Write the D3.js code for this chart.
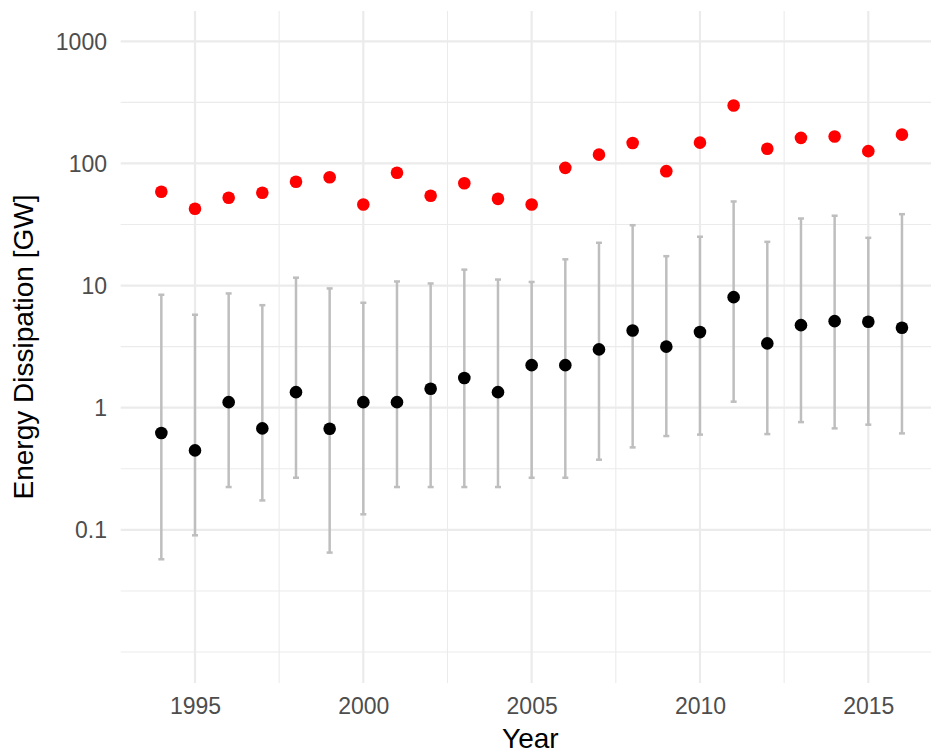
<!DOCTYPE html>
<html>
<head>
<meta charset="utf-8">
<script src="https://cdn.jsdelivr.net/npm/d3@7"></script>
<style>
  body { margin: 0; background: #fff; }
  svg { display: block; font-family: "Liberation Sans", Arial, sans-serif; }
</style>
</head>
<body>
<svg width="931" height="751"></svg>
<script>
const width = 931
const height = 751

const years = [1994, 1995, 1996, 1997, 1998, 1999, 2000, 2001, 2002, 2003, 2004, 2005,
               2006, 2007, 2008, 2009, 2010, 2011, 2012, 2013, 2014, 2015, 2016]
const maxGW = [58.6, 42.5, 52.3, 57.5, 70.7, 77.1, 46.1, 83.8, 54.3, 68.9, 51.3, 46.1,
               92.0, 118, 147, 86.4, 148, 298, 132, 162, 166, 126, 172]
const meanGW = [0.62, 0.447, 1.11, 0.677, 1.34, 0.673, 1.11, 1.11, 1.43, 1.75, 1.34, 2.23,
                2.23, 3.0, 4.29, 3.16, 4.16, 8.04, 3.36, 4.74, 5.11, 5.06, 4.52]
const lowGW = [0.0574, 0.0902, 0.224, 0.174, 0.267, 0.0651, 0.134, 0.224, 0.224, 0.224, 0.224, 0.267,
               0.267, 0.375, 0.473, 0.586, 0.602, 1.12, 0.608, 0.762, 0.677, 0.726, 0.616]
const highGW = [8.41, 5.77, 8.62, 6.91, 11.6, 9.47, 7.23, 10.8, 10.4, 13.5, 11.2, 10.7,
                16.4, 22.4, 31.2, 17.4, 25.1, 48.8, 22.8, 35.4, 37.3, 24.6, 38.4]

const yBreaks = [0.1, 1, 10, 100, 1000]
const yMinor = [0.01, 0.0316, 0.316, 3.16, 31.6, 316]
const xBreaks = [1995, 2000, 2005, 2010, 2015]
const xMinor = [1997.5, 2002.5, 2007.5, 2012.5]

const panel = {left: 120.7, right: 940, top: 11, bottom: 683}

const xScale = d3.scaleLinear()
    .domain([1995, 2015])
    .range([195, 868.3])

const yScale = d3.scaleLog()
    .domain([0.00557, 1770])
    .range([panel.bottom, panel.top])

const svg = d3.select("svg")

const grid = svg.append("g")

// minor gridlines
grid.selectAll(".hminor")
    .data(yMinor)
    .enter()
    .append("line")
        .attr("x1", panel.left)
        .attr("x2", panel.right)
        .attr("y1", d => yScale(d))
        .attr("y2", d => yScale(d))
        .style("stroke", "#ebebeb")
        .style("stroke-width", 1.1)

grid.selectAll(".vminor")
    .data(xMinor)
    .enter()
    .append("line")
        .attr("x1", d => xScale(d))
        .attr("x2", d => xScale(d))
        .attr("y1", panel.top)
        .attr("y2", panel.bottom)
        .style("stroke", "#ebebeb")
        .style("stroke-width", 1.1)

// major gridlines
grid.selectAll(".hmajor")
    .data(yBreaks)
    .enter()
    .append("line")
        .attr("x1", panel.left)
        .attr("x2", panel.right)
        .attr("y1", d => yScale(d))
        .attr("y2", d => yScale(d))
        .style("stroke", "#ebebeb")
        .style("stroke-width", 2.2)

grid.selectAll(".vmajor")
    .data(xBreaks)
    .enter()
    .append("line")
        .attr("x1", d => xScale(d))
        .attr("x2", d => xScale(d))
        .attr("y1", panel.top)
        .attr("y2", panel.bottom)
        .style("stroke", "#ebebeb")
        .style("stroke-width", 2.2)

// axes, labels only
const yAxis = d3.axisLeft(yScale)
    .tickValues(yBreaks)
    .tickFormat(d => d3.format("")(d))
    .tickSize(0)
    .tickPadding(0)

const xAxis = d3.axisBottom(xScale)
    .tickValues(xBreaks)
    .tickFormat(d => d)
    .tickSize(0)
    .tickPadding(0)

const yAxisG = svg.append("g")
    .attr("transform", "translate(107, 0)")
    .call(yAxis)
yAxisG.select(".domain").remove()
yAxisG.selectAll("text")
    .attr("x", 0)
    .attr("dy", "0.35em")
    .style("font-size", "23px")
    .style("font-family", "Liberation Sans, Arial, sans-serif")
    .style("fill", "#4d4d4d")

const xAxisG = svg.append("g")
    .attr("transform", "translate(0, 714)")
    .call(xAxis)
xAxisG.select(".domain").remove()
xAxisG.selectAll("text")
    .attr("y", 0)
    .attr("dy", 0)
    .style("font-size", "23px")
    .style("font-family", "Liberation Sans, Arial, sans-serif")
    .style("fill", "#4d4d4d")

// error bars
const bars = svg.append("g")
bars.selectAll(".bar")
    .data(years)
    .enter()
    .append("line")
        .attr("x1", d => xScale(d))
        .attr("x2", d => xScale(d))
        .attr("y1", (d, i) => yScale(lowGW[i]))
        .attr("y2", (d, i) => yScale(highGW[i]))
        .style("stroke", "#bebebe")
        .style("stroke-width", 2.5)

bars.selectAll(".capLow")
    .data(years)
    .enter()
    .append("line")
        .attr("x1", d => xScale(d) - 3)
        .attr("x2", d => xScale(d) + 3)
        .attr("y1", (d, i) => yScale(lowGW[i]))
        .attr("y2", (d, i) => yScale(lowGW[i]))
        .style("stroke", "#bebebe")
        .style("stroke-width", 2.5)

bars.selectAll(".capHigh")
    .data(years)
    .enter()
    .append("line")
        .attr("x1", d => xScale(d) - 3)
        .attr("x2", d => xScale(d) + 3)
        .attr("y1", (d, i) => yScale(highGW[i]))
        .attr("y2", (d, i) => yScale(highGW[i]))
        .style("stroke", "#bebebe")
        .style("stroke-width", 2.5)

// points
svg.selectAll(".mean")
    .data(years)
    .enter()
    .append("circle")
        .attr("cx", d => xScale(d))
        .attr("cy", (d, i) => yScale(meanGW[i]))
        .attr("r", 6.3)
        .style("fill", "#000")

svg.selectAll(".peak")
    .data(years)
    .enter()
    .append("circle")
        .attr("cx", d => xScale(d))
        .attr("cy", (d, i) => yScale(maxGW[i]))
        .attr("r", 6.3)
        .style("fill", "#ff0000")

// axis titles
svg.append("text")
    .attr("x", (panel.left + panel.right) / 2)
    .attr("y", 748)
    .attr("text-anchor", "middle")
    .style("font-size", "28px")
    .style("fill", "#000")
    .text("Year")

svg.append("text")
    .attr("transform", `translate(33, ${(panel.top + panel.bottom) / 2}) rotate(-90)`)
    .attr("text-anchor", "middle")
    .style("font-size", "28px")
    .style("fill", "#000")
    .text("Energy Dissipation [GW]")
</script>
</body>
</html>
